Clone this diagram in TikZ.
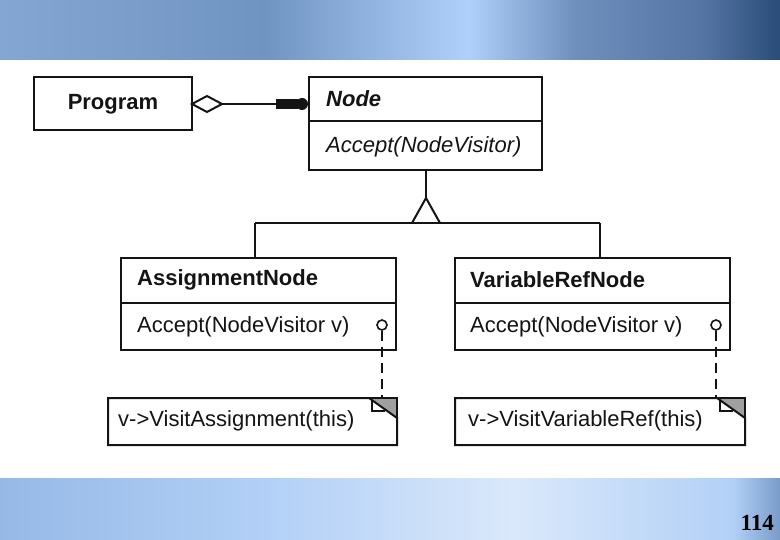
\documentclass[tikz,border=0pt]{standalone}
\usepackage{fontspec}
\setmainfont{Liberation Sans}
\newfontfamily\serifnum{Liberation Serif}
\usetikzlibrary{shapes.geometric}
\definecolor{bandA}{RGB}{132,166,210}
\definecolor{bandB}{RGB}{112,148,194}
\definecolor{bandC}{RGB}{175,208,250}
\definecolor{bandD}{RGB}{110,142,188}
\definecolor{bandE}{RGB}{85,118,165}
\definecolor{bandF}{RGB}{42,76,120}
\definecolor{botA}{RGB}{150,185,230}
\definecolor{botB}{RGB}{178,208,247}
\definecolor{botC}{RGB}{218,232,250}
\definecolor{botD}{RGB}{120,155,200}
\definecolor{ink}{RGB}{20,20,20}
\definecolor{fold}{RGB}{160,160,160}
\pgfdeclarehorizontalshading{topband}{100bp}{color(0bp)=(bandA); color(25bp)=(bandA); color(42bp)=(bandB); color(55bp)=(bandC); color(62bp)=(bandD); color(70bp)=(bandE); color(75bp)=(bandF); color(100bp)=(bandF)}
\pgfdeclarehorizontalshading{botband}{100bp}{color(0bp)=(botA); color(25bp)=(botA); color(42bp)=(botB); color(58bp)=(botC); color(72bp)=(botB); color(75bp)=(botD); color(100bp)=(botD)}
\tikzset{
  cls/.style={draw=ink, line width=2pt, fill=white},
  lbl/.style={anchor=west, inner sep=0pt, text=ink, font=\fontsize{22}{26}\selectfont},
  blbl/.style={lbl, font=\fontsize{22}{26}\selectfont\bfseries},
  conn/.style={draw=ink, line width=2pt},
  notebox/.style={draw=ink, line width=2pt},
  lolly/.style={circle, draw=ink, line width=1.6pt, minimum size=10pt, inner sep=0pt},
  dep/.style={conn, dash pattern=on 10pt off 6pt}
}
\begin{document}
\begin{tikzpicture}[x=1pt,y=-1pt]
\useasboundingbox (0,0) rectangle (780,540);
\fill[white] (0,0) rectangle (780,540);
\shade[shading=topband] (0,0) rectangle (780,60);
\shade[shading=botband] (0,478) rectangle (780,540);

% Program
\draw[cls] (34,77) rectangle (192,130);
\node[blbl, anchor=center] (prog) at (113,104) {Program};
\coordinate (progE) at (192,104);

% Node
\draw[cls] (309,77) rectangle (542,170);
\draw[conn] (309,121) -- (542,121);
\node[blbl, font=\fontsize{22}{26}\selectfont\bfseries\itshape] (node) at (326,99) {Node};
\node[lbl, font=\fontsize{22}{26}\selectfont\itshape] (nodeop) at (326,147) {Accept(NodeVisitor)};
\coordinate (nodeW) at (309,104);
\coordinate (nodeS) at (426,170);

% aggregation
\draw[conn, fill=white] (progE) -- (207,96) -- (222,104) -- (207,112) -- cycle;
\draw[conn] (222,104) -- (nodeW);
\fill[ink] (276,99) rectangle (298,109);
\fill[ink] (302,104) circle (6);

% inheritance
\coordinate (apex) at (426,198);
\draw[conn] (nodeS) -- (apex);
\draw[conn] (412,223) -- (apex) -- (440,223);
\coordinate (hl) at (255,223);
\coordinate (hr) at (600,223);
\draw[conn] (hl) -- (hr);
\draw[conn] (hl) -- (255,258);
\draw[conn] (hr) -- (600,258);

% AssignmentNode
\draw[cls] (121,258) rectangle (396,350);
\draw[conn] (121,303) -- (396,303);
\node[blbl] (an) at (137,280) {AssignmentNode};
\node[lbl] (anop) at (137,327) {Accept(NodeVisitor v)};
\node[lolly] (c1) at (382,325) {};

% VariableRefNode
\draw[cls] (455,258) rectangle (730,350);
\draw[conn] (455,303) -- (730,303);
\node[blbl] (vn) at (470,280) {VariableRefNode};
\node[lbl] (vnop) at (470,327) {Accept(NodeVisitor v)};
\node[lolly] (c2) at (716,325) {};

% notes
\foreach \l/\r in {108/397, 455/745}{
  \pgfmathsetmacro{\fx}{\r-28}
  \fill[fold] (\fx,398) -- (\r,398) -- (\r,418) -- cycle;
  \draw[notebox] (\fx,398) -- (\l,398) -- (\l,445) -- (\r,445) -- (\r,418) -- (\fx,398);
  \draw[notebox, line width=1.4pt] (\fx+3,400) -- (\fx+3,411) -- (\r-12,411);
  \draw[notebox] (\fx,398) -- (\r,398) -- (\r,418);
}
\coordinate (n1) at (382,398);
\coordinate (n2) at (716,398);
\node[lbl] (t1) at (118,421) {v-{}>VisitAssignment(this)};
\node[lbl] (t2) at (468,421) {v-{}>VisitVariableRef(this)};
\draw[dep] (c1) -- (n1);
\draw[dep] (c2) -- (n2);

\node[anchor=east, inner sep=0pt, font=\serifnum\fontsize{23}{26}\selectfont\bfseries] (pg) at (774,523) {114};
\end{tikzpicture}
\end{document}
